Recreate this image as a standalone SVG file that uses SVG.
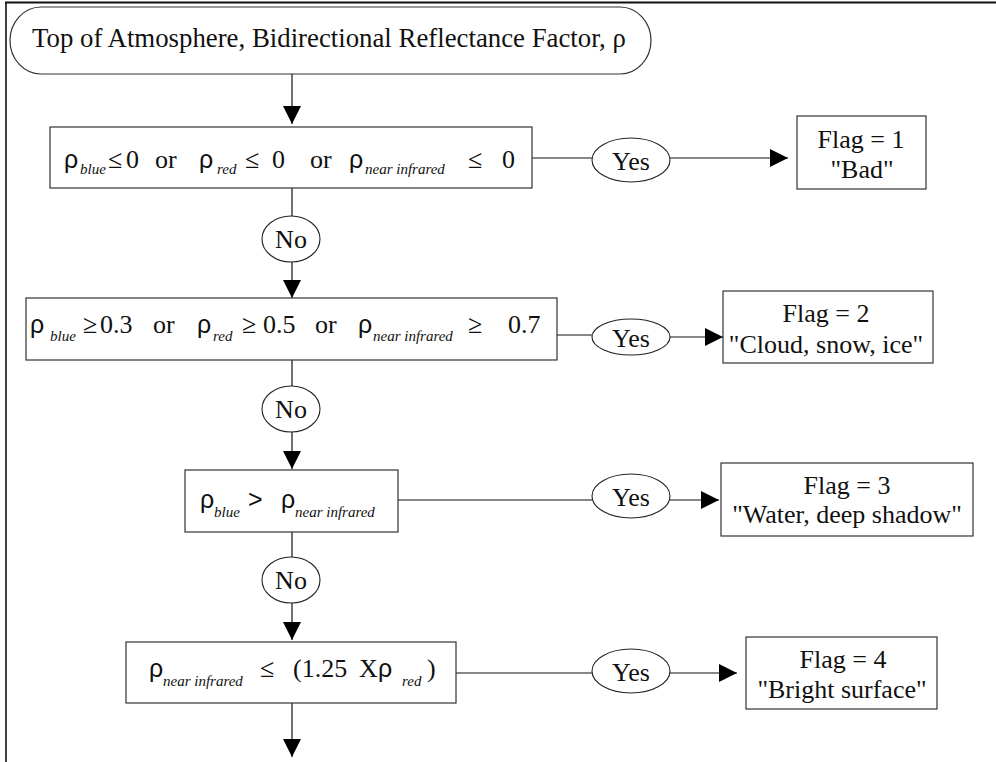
<svg xmlns="http://www.w3.org/2000/svg" width="996" height="762" viewBox="0 0 996 762">
<defs>
<style>
.box{fill:#fff;stroke:#333;stroke-width:1.2}
.ell{fill:#fff;stroke:#222;stroke-width:1.1}
.ln{fill:none;stroke:#111;stroke-width:1.2}
.t{font-family:"Liberation Serif","Times New Roman",serif;font-size:26px;fill:#111}
.c{text-anchor:middle}
.r{font-family:"Liberation Sans",Arial,sans-serif;font-size:25px}
.s{font-family:"Liberation Serif","Times New Roman",serif;font-style:italic;font-size:15px}
</style>
<marker id="ah" markerUnits="userSpaceOnUse" markerWidth="18" markerHeight="18" refX="18" refY="9" orient="auto">
<path d="M0,0 L18,9 L0,18 z" fill="#000"/>
</marker>
</defs>
<rect width="996" height="762" fill="#fff"/>
<g id="frame" class="ln">
<line x1="5" y1="2.5" x2="996" y2="2.5" style="stroke-width:1.8"/>
<line x1="6" y1="2" x2="6" y2="762" style="stroke-width:1.6"/>
</g>
<g id="connectors">
<line class="ln" x1="292" y1="74" x2="292" y2="124" marker-end="url(#ah)"/>
<line class="ln" x1="292" y1="188" x2="292" y2="216"/>
<line class="ln" x1="292" y1="262" x2="292" y2="298" marker-end="url(#ah)"/>
<line class="ln" x1="292" y1="360" x2="292" y2="386"/>
<line class="ln" x1="292" y1="432" x2="292" y2="469" marker-end="url(#ah)"/>
<line class="ln" x1="292" y1="532" x2="292" y2="557"/>
<line class="ln" x1="292" y1="603" x2="292" y2="640" marker-end="url(#ah)"/>
<line class="ln" x1="292" y1="703" x2="292" y2="757" marker-end="url(#ah)"/>
<line class="ln" x1="522" y1="158" x2="592" y2="158"/>
<line class="ln" x1="670" y1="158" x2="788" y2="158" marker-end="url(#ah)"/>
<line class="ln" x1="557" y1="335" x2="592" y2="335"/>
<line class="ln" x1="670" y1="337" x2="723" y2="337" marker-end="url(#ah)"/>
<line class="ln" x1="398" y1="500" x2="592" y2="500"/>
<line class="ln" x1="670" y1="500" x2="719" y2="500" marker-end="url(#ah)"/>
<line class="ln" x1="456" y1="673" x2="592" y2="673"/>
<line class="ln" x1="670" y1="673" x2="737" y2="673" marker-end="url(#ah)"/>
</g>
<g id="start">
<rect class="box" x="10" y="7" width="641" height="67" rx="31" ry="33.5"/>
<text class="t" x="32" y="47" style="font-size:26.8px">Top of Atmosphere, Bidirectional Reflectance Factor, ρ</text>
</g>
<g id="test1">
<rect class="box" x="50" y="127" width="482" height="61"/>
<text class="t" y="168"><tspan class="r" x="64">ρ</tspan><tspan class="s" x="80" y="174">blue</tspan><tspan x="108" y="168">≤</tspan><tspan x="126">0</tspan><tspan x="155">or</tspan><tspan class="r" x="199">ρ</tspan><tspan class="s" x="217" y="174">red</tspan><tspan x="245" y="168">≤</tspan><tspan x="272">0</tspan><tspan x="310">or</tspan><tspan class="r" x="349">ρ</tspan><tspan class="s" x="365" y="174">near infrared</tspan><tspan x="468" y="168">≤</tspan><tspan x="502">0</tspan></text>
</g>
<g id="test2">
<rect class="box" x="26" y="298" width="531" height="62"/>
<text class="t" y="333"><tspan class="r" x="30">ρ</tspan><tspan class="s" x="50" y="341">blue</tspan><tspan x="83" y="333">≥</tspan><tspan x="100">0.3</tspan><tspan x="153">or</tspan><tspan class="r" x="197">ρ</tspan><tspan class="s" x="213" y="341">red</tspan><tspan x="242" y="333">≥</tspan><tspan x="263">0.5</tspan><tspan x="315">or</tspan><tspan class="r" x="358">ρ</tspan><tspan class="s" x="373" y="341">near infrared</tspan><tspan x="468" y="333">≥</tspan><tspan x="508">0.7</tspan></text>
</g>
<g id="test3">
<rect class="box" x="185" y="470" width="213" height="62"/>
<text class="t" y="508"><tspan class="r" x="200">ρ</tspan><tspan class="s" x="214" y="517">blue</tspan><tspan class="r" x="248" y="508">&gt;</tspan><tspan class="r" x="281">ρ</tspan><tspan class="s" x="295" y="517">near infrared</tspan></text>
</g>
<g id="test4">
<rect class="box" x="126" y="642" width="330" height="61"/>
<text class="t" y="677"><tspan class="r" x="149">ρ</tspan><tspan class="s" x="163" y="686">near infrared</tspan><tspan x="260" y="677">≤</tspan><tspan x="293">(1.25</tspan><tspan x="359">X</tspan><tspan class="r" x="378">ρ</tspan><tspan class="s" x="402" y="686">red</tspan><tspan x="427" y="677">)</tspan></text>
</g>
<g id="no1"><ellipse class="ell" cx="291" cy="239" rx="29" ry="23"/><text class="t c" x="291" y="248">No</text></g>
<g id="no2"><ellipse class="ell" cx="291" cy="409" rx="29" ry="23"/><text class="t c" x="291" y="418">No</text></g>
<g id="no3"><ellipse class="ell" cx="291" cy="580" rx="29" ry="23"/><text class="t c" x="291" y="589">No</text></g>
<g id="yes1"><ellipse class="ell" cx="631" cy="160" rx="39" ry="22"/><text class="t c" x="631" y="170">Yes</text></g>
<g id="yes2"><ellipse class="ell" cx="631" cy="337" rx="39" ry="18"/><text class="t c" x="631" y="347">Yes</text></g>
<g id="yes3"><ellipse class="ell" cx="631" cy="496" rx="39" ry="22"/><text class="t c" x="631" y="506">Yes</text></g>
<g id="yes4"><ellipse class="ell" cx="631" cy="671" rx="39" ry="22"/><text class="t c" x="631" y="681">Yes</text></g>
<g id="flag1"><rect class="box" x="797" y="116" width="129" height="73"/><text class="t c" x="861" y="148">Flag = 1</text><text class="t c" x="862" y="178">"Bad"</text></g>
<g id="flag2"><rect class="box" x="723" y="291" width="210" height="72"/><text class="t c" x="826" y="322">Flag = 2</text><text class="t c" x="826" y="353">"Cloud, snow, ice"</text></g>
<g id="flag3"><rect class="box" x="721" y="463" width="252" height="73"/><text class="t c" x="847" y="494">Flag = 3</text><text class="t c" x="847" y="523">"Water, deep shadow"</text></g>
<g id="flag4"><rect class="box" x="746" y="637" width="191" height="72"/><text class="t c" x="843" y="668">Flag = 4</text><text class="t c" x="842" y="698">"Bright surface"</text></g>
</svg>
